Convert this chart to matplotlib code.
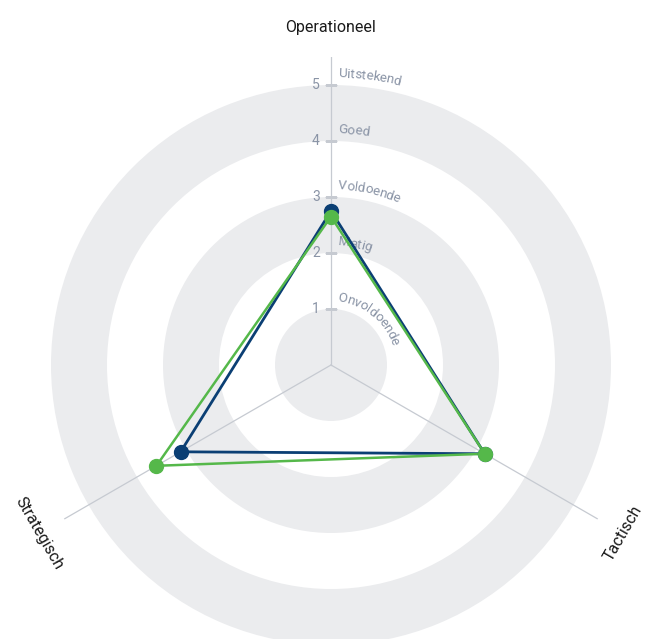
import numpy as np
import matplotlib.pyplot as plt
from matplotlib.font_manager import FontProperties
from matplotlib.textpath import TextToPath

# Radar data
categories = ['Operationeel', 'Tactisch', 'Strategisch']
blue_values = [2.75, 3.17, 3.1]
green_values = [2.65, 3.17, 3.6]
tick_values = [1, 2, 3, 4, 5]
level_names = ['Onvoldoende', 'Matig', 'Voldoende', 'Goed', 'Uitstekend']

blue = '#0b3f74'
green = '#55b84a'
axis_grey = '#c6cad1'
text_grey = '#8a94a6'
band_grey = '#ebecee'

rmax = 5.5
px_per_unit = 56.0
dpi = 100

fig = plt.figure(figsize=(6.47, 6.39), dpi=dpi)
cx, cy = 331, 365
half = rmax * px_per_unit
ax = fig.add_axes([(cx - half) / 647, (639 - cy - half) / 639, 2 * half / 647, 2 * half / 639],
                  projection='polar')
ax.set_theta_zero_location('N')
ax.set_theta_direction(-1)
ax.set_ylim(0, rmax)
ax.grid(False)
ax.set_xticks([])
ax.set_yticks([])
ax.spines['polar'].set_visible(False)
ax.patch.set_alpha(0)

# grey bands
for b in [0, 2, 4]:
    ax.bar(0, 1, width=2 * np.pi, bottom=b, color=band_grey, edgecolor='none', zorder=0)

angles = np.arange(len(categories)) * 2 * np.pi / len(categories)

# spokes
for a in angles:
    ax.plot([a, a], [0, rmax], color=axis_grey, lw=0.9, zorder=1)

# ticks on the top axis
for t in tick_values:
    ax.plot([0], [t], marker='_', markersize=9, color=axis_grey, mew=0.9, zorder=1)
    ax.annotate(str(t), xy=(0, t), xytext=(-8, 0), textcoords='offset points',
                ha='right', va='center', fontsize=10, color=text_grey, family='Roboto')

# curved level names
fp = FontProperties(family='Roboto', size=9.6)
ttp = TextToPath()
def width_px(s):
    w, h, d = ttp.get_text_width_height_descent(s, fp, ismath=False)
    return w * dpi / 72.0

for t, name in zip(tick_values, level_names):
    r = t + 0.2
    rad_px = r * px_per_unit
    start = 7.0
    for i, ch in enumerate(name):
        arc = start + width_px(name[:i]) + width_px(ch) / 2
        th = arc / rad_px
        ax.text(th, r, ch, ha='center', va='center', rotation=-np.degrees(th),
                rotation_mode='anchor', fontproperties=fp, color=text_grey, zorder=2)

# category labels
for a, lab in zip(angles, categories):
    rot = -np.degrees(a)
    if rot < -90:
        rot += 180
    ax.text(a, 6.02, lab, ha='center', va='center', rotation=rot,
            rotation_mode='anchor', fontsize=11.5, color='#1a1a1a', family='Roboto')

# series
closed = np.append(angles, angles[0])
for vals, col, lw in [(blue_values, blue, 2.0), (green_values, green, 1.8)]:
    v = np.append(vals, vals[0])
    ax.plot(closed, v, color=col, lw=lw, zorder=4)
    ax.plot(angles, vals, 'o', color=col, markersize=10, zorder=5)

fig.savefig('out.png', dpi=dpi)
